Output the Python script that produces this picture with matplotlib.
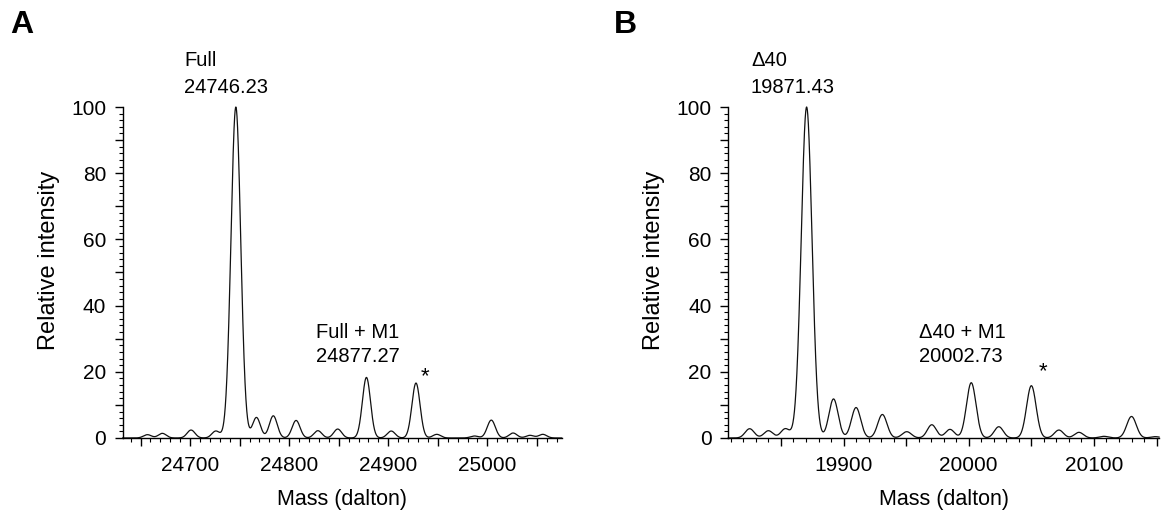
import numpy as np
import matplotlib
matplotlib.use("Agg")
import matplotlib.pyplot as plt
from matplotlib.ticker import MultipleLocator, FuncFormatter

plt.rcParams['font.family'] = ['Liberation Sans', 'DejaVu Sans']

# ---- Panel A peak list (mass, relative intensity, width sigma in Da) ----
massA = [24657, 24672, 24701, 24726, 24746.2, 24767, 24784, 24807, 24829, 24849,
         24878, 24903, 24928, 24949, 24987, 25004, 25026, 25043, 25056]
intA = [1.0, 1.4, 2.4, 2.1, 100, 6.2, 6.7, 5.3, 2.2, 2.7,
        18.3, 2.1, 16.6, 1.1, 0.6, 5.4, 1.5, 0.8, 1.1]
sigA = [4.0, 4.0, 4.0, 4.0, 4.9, 4.0, 4.0, 4.0, 4.0, 4.0,
        4.1, 4.0, 4.1, 4.0, 4.0, 4.1, 4.0, 4.0, 4.0]

# ---- Panel B peak list ----
massB = [19825, 19840, 19853.5, 19870.5, 19892, 19910, 19931, 19950.5, 19970.5, 19985,
         20002, 20024, 20050, 20072, 20088, 20108, 20130, 20149]
intB = [2.8, 2.2, 2.8, 100, 11.8, 9.2, 7.1, 1.9, 4.0, 2.6,
        16.7, 3.4, 15.8, 2.4, 1.7, 0.5, 6.5, 0.4]
sigB = [3.6, 3.6, 3.6, 4.3, 3.7, 3.7, 3.7, 3.7, 3.6, 3.6,
        3.8, 3.6, 3.8, 3.6, 3.6, 3.6, 3.8, 3.6]

xlimA = (24632, 25075)
xlimB = (19808, 20152)
xlabelsA = [24700, 24800, 24900, 25000]
xlabelsB = [19900, 20000, 20100]
ylabels = [0, 20, 40, 60, 80, 100]

# annotation lines: (text, x, y) with y = vertical centre of each line
annA = [("Full", 24694, 114.2), ("24746.23", 24694, 106.0),
        ("Full + M1", 24827, 32.0), ("24877.27", 24827, 24.5)]
annB = [("\u039440", 19826, 114.2), ("19871.43", 19826, 106.0),
        ("\u039440 + M1", 19960, 32.0), ("20002.73", 19960, 24.5)]
starA = (24937, 18.4)
starB = (20059, 19.9)


def spectrum(x, mass, inten, sig):
    y = np.zeros_like(x)
    for m, h, s in zip(mass, inten, sig):
        y += h * np.exp(-0.5 * ((x - m) / s) ** 2)
    return y


fig = plt.figure(figsize=(11.65, 5.14), dpi=100)
axA = fig.add_axes([0.1053, 0.1479, 0.3768, 0.6439])
axB = fig.add_axes([0.6252, 0.1479, 0.3697, 0.6439])

for ax, mass, inten, sig, xlim, xl, ann, star in [
        (axA, massA, intA, sigA, xlimA, xlabelsA, annA, starA),
        (axB, massB, intB, sigB, xlimB, xlabelsB, annB, starB)]:
    x = np.linspace(xlim[0], xlim[1], 3000)
    ax.plot(x, spectrum(x, mass, inten, sig), color='#111111', lw=0.9, clip_on=False)
    ax.set_xlim(*xlim)
    ax.set_ylim(0, 100)
    for s in ['top', 'right']:
        ax.spines[s].set_visible(False)
    for s in ['left', 'bottom']:
        ax.spines[s].set_linewidth(1.0)
    ax.xaxis.set_major_locator(MultipleLocator(50))
    ax.xaxis.set_major_formatter(FuncFormatter(
        lambda v, p, xl=xl: f"{int(round(v))}" if int(round(v)) in xl else ""))
    ax.xaxis.set_minor_locator(MultipleLocator(10))
    ax.yaxis.set_major_locator(MultipleLocator(10))
    ax.yaxis.set_major_formatter(FuncFormatter(
        lambda v, p: f"{int(round(v))}" if int(round(v)) in ylabels else ""))
    ax.yaxis.set_minor_locator(MultipleLocator(2))
    ax.tick_params(axis='both', which='major', direction='out', length=6, width=1,
                   labelsize=15, pad=6)
    ax.tick_params(axis='x', which='major', pad=7)
    ax.tick_params(axis='both', which='minor', direction='out', length=3, width=0.8)
    ax.set_xlabel("Mass (dalton)", fontsize=15.5, labelpad=10)
    ax.set_ylabel("Relative intensity", fontsize=17, labelpad=8)
    ax.yaxis.label.set_y(0.536)
    for txt, xx, yy in ann:
        ax.text(xx, yy, txt, fontsize=14.5, ha='left', va='center', clip_on=False)
    ax.text(star[0], star[1], "*", fontsize=16, ha='center', va='center', clip_on=False)

fig.text(10 / 1165, 1 - 25 / 514, "A", fontsize=23, fontweight='bold', va='center', ha='left')
fig.text(614 / 1165, 1 - 25 / 514, "B", fontsize=23, fontweight='bold', va='center', ha='left')

fig.savefig("out.png", dpi=100)
